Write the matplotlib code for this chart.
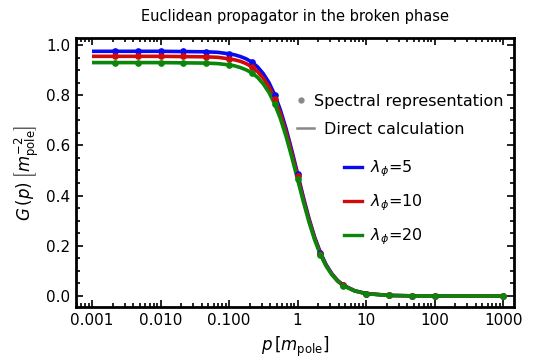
import matplotlib
matplotlib.use("Agg")
import matplotlib.pyplot as plt
from matplotlib.lines import Line2D
from matplotlib.ticker import FixedLocator, LogLocator, MultipleLocator, NullFormatter

# ---- data ----
p_line = [0.001, 0.01, 0.0464, 0.0681, 0.1, 0.121, 0.147, 0.178, 0.215, 0.261,
          0.316, 0.383, 0.464, 0.562, 0.681, 0.825, 1.0, 1.212, 1.468, 1.778,
          2.154, 2.610, 3.162, 3.831, 4.642, 6.813, 10.0, 21.5, 46.4, 100.0, 1000.0]
G_line_5 = [0.975, 0.975, 0.973, 0.971, 0.965, 0.961, 0.954, 0.945, 0.932, 0.913,
            0.886, 0.850, 0.802, 0.741, 0.666, 0.580, 0.488, 0.395, 0.309, 0.234,
            0.173, 0.125, 0.089, 0.062, 0.043, 0.021, 0.0097, 0.0021, 0.00045, 0.0001, 0.0]
G_line_10 = [0.955, 0.955, 0.953, 0.951, 0.945, 0.941, 0.935, 0.926, 0.913, 0.894,
             0.868, 0.833, 0.786, 0.726, 0.652, 0.568, 0.478, 0.387, 0.303, 0.229,
             0.169, 0.122, 0.087, 0.061, 0.042, 0.020, 0.0095, 0.0021, 0.00044, 0.0001, 0.0]
G_line_20 = [0.930, 0.930, 0.928, 0.926, 0.921, 0.917, 0.910, 0.901, 0.889, 0.871,
             0.845, 0.811, 0.765, 0.707, 0.635, 0.553, 0.465, 0.377, 0.295, 0.223,
             0.165, 0.119, 0.085, 0.059, 0.041, 0.020, 0.0092, 0.0020, 0.00043, 0.0001, 0.0]

p_pts = [0.00215, 0.00464, 0.01, 0.0215, 0.0464, 0.1, 0.215, 0.464, 1.0,
         2.15, 4.64, 10.0, 21.5, 46.4, 100.0, 1000.0]
G_pts_5 = [0.975, 0.975, 0.975, 0.975, 0.973, 0.965, 0.932, 0.802, 0.488,
           0.173, 0.043, 0.0097, 0.0021, 0.00045, 0.0001, 0.0]
G_pts_10 = [0.955, 0.955, 0.955, 0.955, 0.953, 0.945, 0.913, 0.786, 0.478,
            0.169, 0.042, 0.0095, 0.0021, 0.00044, 0.0001, 0.0]
G_pts_20 = [0.930, 0.930, 0.930, 0.930, 0.928, 0.921, 0.889, 0.765, 0.465,
            0.165, 0.041, 0.0092, 0.0020, 0.00043, 0.0001, 0.0]

series_labels = [r"$\lambda_\phi$=5", r"$\lambda_\phi$=10", r"$\lambda_\phi$=20"]
xtick_vals = [0.001, 0.01, 0.1, 1, 10, 100, 1000]
xtick_labels = ["0.001", "0.010", "0.100", "1", "10", "100", "1000"]
ytick_vals = [0.0, 0.2, 0.4, 0.6, 0.8, 1.0]
ytick_labels = ["0.0", "0.2", "0.4", "0.6", "0.8", "1.0"]

colors = ["#0a0af0", "#d00a0a", "#0a870a"]

plt.rcParams["font.family"] = ["DejaVu Sans"]
plt.rcParams["mathtext.fontset"] = "dejavusans"

fig = plt.figure(figsize=(5.33, 3.63), dpi=100)
ax = fig.add_axes([0.1426, 0.1543, 0.8218, 0.7410])

lines_data = [G_line_5, G_line_10, G_line_20]
pts_data = [G_pts_5, G_pts_10, G_pts_20]
for c, gl, gp in zip(colors, lines_data, pts_data):
    ax.plot(p_line, gl, color=c, lw=2.6, solid_capstyle="butt",
            solid_joinstyle="round", zorder=2)
    ax.plot(p_pts, gp, ls="none", marker="o", ms=3.8, color=c, zorder=3)

ax.set_xscale("log")
ax.set_xlim(5.84e-4, 1445)
ax.set_ylim(-0.044, 1.028)

ax.xaxis.set_major_locator(FixedLocator(xtick_vals))
ax.set_xticklabels(xtick_labels)
ax.xaxis.set_minor_locator(LogLocator(base=10, subs=range(2, 10), numticks=20))
ax.xaxis.set_minor_formatter(NullFormatter())
ax.yaxis.set_major_locator(FixedLocator(ytick_vals))
ax.set_yticklabels(ytick_labels)
ax.yaxis.set_minor_locator(MultipleLocator(0.05))

ax.tick_params(which="both", direction="in", top=True, right=True,
               labelsize=11, width=1.2, colors="black", pad=4)
ax.tick_params(which="major", length=5)
ax.tick_params(which="minor", length=3)
for s in ax.spines.values():
    s.set_linewidth(2.0)

ax.set_title("Euclidean propagator in the broken phase", fontsize=10.5, pad=12)
ax.set_xlabel(r"$p\,\left[m_{\mathrm{pole}}\right]$", fontsize=12, labelpad=5)
ax.set_ylabel(r"$G\,(p)\;\left[m_{\mathrm{pole}}^{-2}\right]$", fontsize=12, labelpad=4)

gray = "#888888"
leg1 = ax.legend(handles=[Line2D([], [], ls="none", marker="o", ms=3.5, color=gray)],
                 labels=["Spectral representation"], loc="upper left",
                 bbox_to_anchor=(0.495, 0.793), frameon=False, fontsize=11.5,
                 handlelength=1.0, handletextpad=0.3, borderaxespad=0, borderpad=0)
ax.add_artist(leg1)
leg2 = ax.legend(handles=[Line2D([], [], color=gray, lw=1.8)],
                 labels=["Direct calculation"], loc="upper left",
                 bbox_to_anchor=(0.505, 0.688), frameon=False, fontsize=11.5,
                 handlelength=1.05, handletextpad=0.6, borderaxespad=0, borderpad=0)
ax.add_artist(leg2)
ax.legend(handles=[Line2D([], [], color=c, lw=2.4) for c in colors],
          labels=series_labels, loc="upper left",
          bbox_to_anchor=(0.612, 0.552), frameon=False, fontsize=11.5,
          handlelength=1.1, handletextpad=0.5, labelspacing=0.85,
          borderaxespad=0, borderpad=0)

fig.savefig("out.png", dpi=100)
